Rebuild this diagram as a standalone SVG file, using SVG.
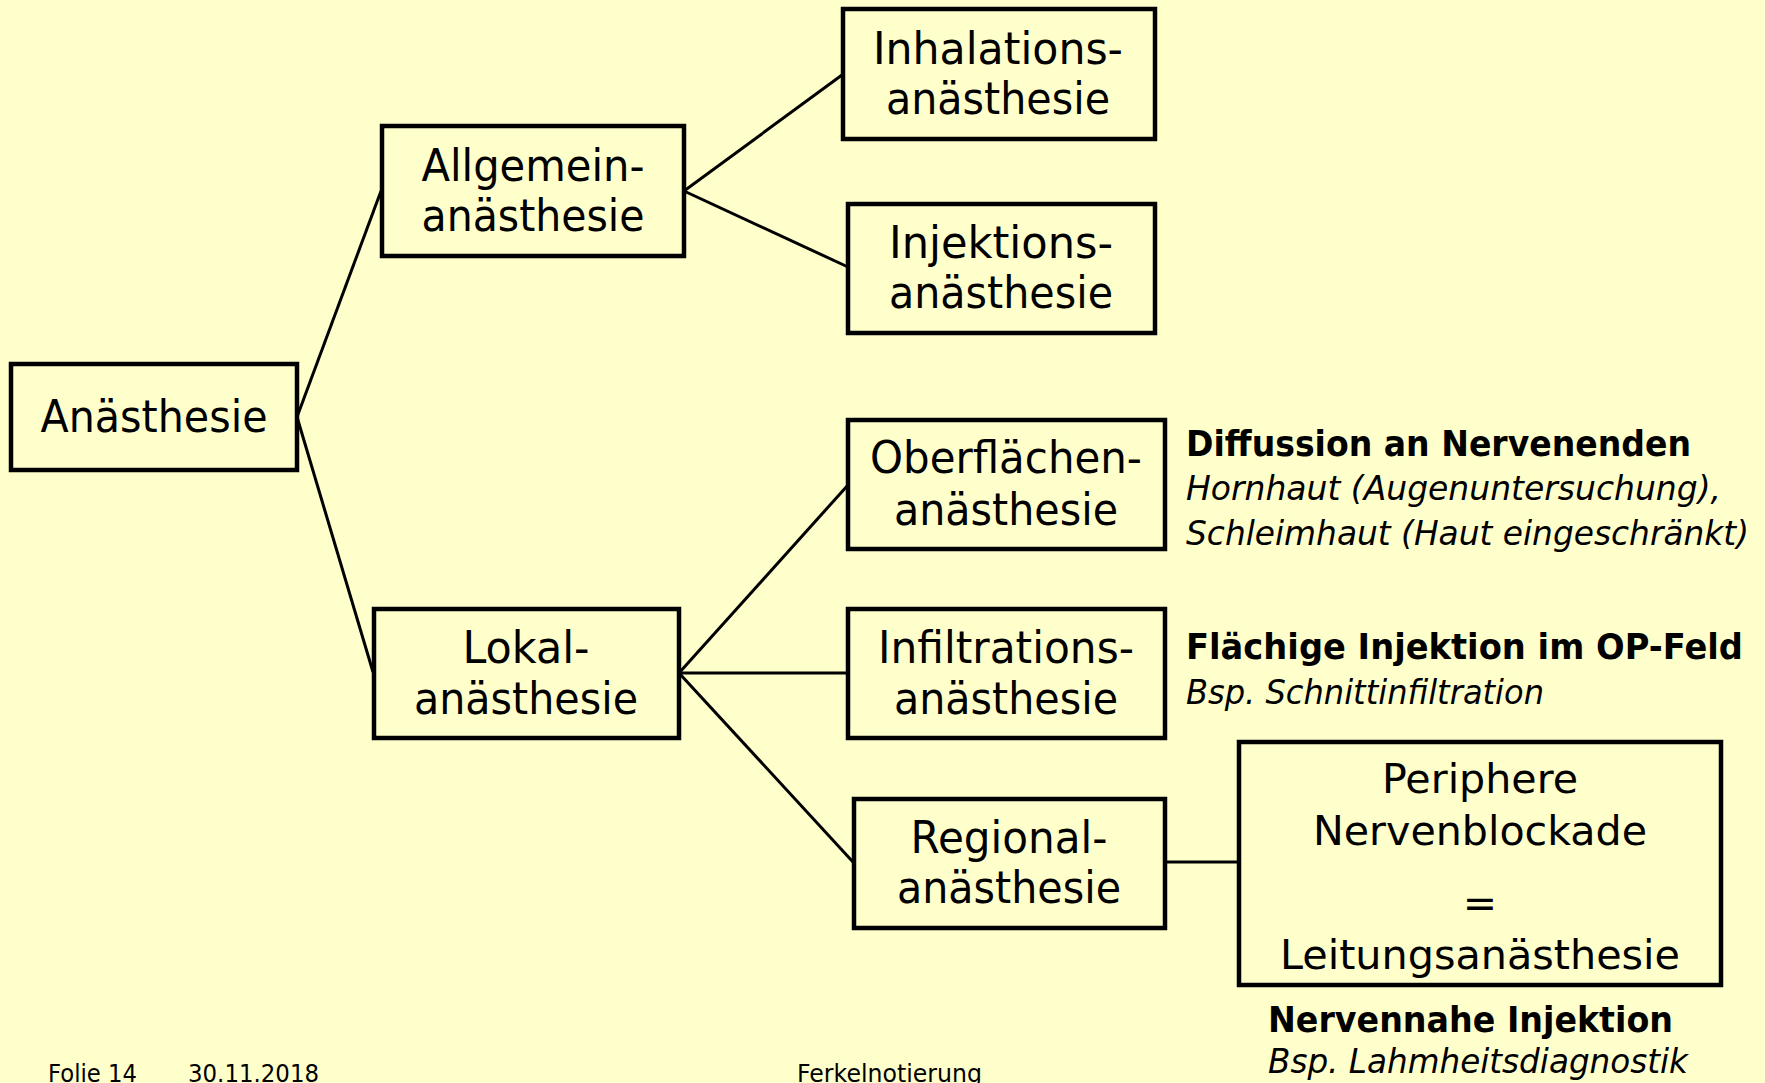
<svg xmlns="http://www.w3.org/2000/svg" width="1765" height="1083" viewBox="0 0 1765 1083">
<style>
.bg{fill:#FFFFCC}
.box{fill:#FFFFCC;stroke:#000;stroke-width:4.5}
.lbl{font-family:"DejaVu Sans","Verdana",sans-serif;font-size:44px;fill:#000;text-anchor:middle}
.big{font-family:"DejaVu Sans","Verdana",sans-serif;font-size:41px;fill:#000;text-anchor:middle}
.b{font-family:"DejaVu Sans","Verdana",sans-serif;font-size:35px;font-weight:bold;fill:#000}
.it{font-family:"DejaVu Sans","Verdana",sans-serif;font-size:33.5px;font-style:italic;fill:#000}
.ft{font-family:"DejaVu Sans","Verdana",sans-serif;font-size:24px;fill:#000}
.con line{stroke:#000;stroke-width:3}
</style>
<rect class="bg" x="0" y="0" width="1765" height="1083"/>
<g class="con" id="connectors">
<line x1="297" y1="417" x2="381" y2="191"/>
<line x1="297" y1="417" x2="373" y2="672"/>
<line x1="684" y1="191" x2="842" y2="75"/>
<line x1="684" y1="191" x2="848" y2="267"/>
<line x1="679" y1="673" x2="848" y2="485"/>
<line x1="679" y1="673" x2="848" y2="673"/>
<line x1="679" y1="673" x2="853" y2="862"/>
<line x1="1165" y1="862" x2="1239" y2="862"/>
</g>
<g id="anaesthesie">
<rect class="box" x="11" y="364" width="286" height="106"/>
<text class="lbl" x="154" y="432" textLength="227" lengthAdjust="spacingAndGlyphs">Anästhesie</text>
</g>
<g id="allgemein">
<rect class="box" x="382" y="126" width="302" height="130"/>
<text class="lbl" x="533" y="181" textLength="223" lengthAdjust="spacingAndGlyphs">Allgemein-</text>
<text class="lbl" x="533" y="231" textLength="223" lengthAdjust="spacingAndGlyphs">anästhesie</text>
</g>
<g id="inhalation">
<rect class="box" x="843" y="9" width="312" height="130"/>
<text class="lbl" x="998" y="64" textLength="250" lengthAdjust="spacingAndGlyphs">Inhalations-</text>
<text class="lbl" x="998" y="114" textLength="224" lengthAdjust="spacingAndGlyphs">anästhesie</text>
</g>
<g id="injektion">
<rect class="box" x="848" y="204" width="307" height="129"/>
<text class="lbl" x="1001" y="258" textLength="224" lengthAdjust="spacingAndGlyphs">Injektions-</text>
<text class="lbl" x="1001" y="308" textLength="224" lengthAdjust="spacingAndGlyphs">anästhesie</text>
</g>
<g id="lokal">
<rect class="box" x="374" y="609" width="305" height="129"/>
<text class="lbl" x="526" y="663" textLength="127" lengthAdjust="spacingAndGlyphs">Lokal-</text>
<text class="lbl" x="526" y="714" textLength="224" lengthAdjust="spacingAndGlyphs">anästhesie</text>
</g>
<g id="oberflaechen">
<rect class="box" x="848" y="420" width="317" height="129"/>
<text class="lbl" x="1006" y="473" textLength="272" lengthAdjust="spacingAndGlyphs">Oberflächen-</text>
<text class="lbl" x="1006" y="525" textLength="224" lengthAdjust="spacingAndGlyphs">anästhesie</text>
</g>
<g id="infiltration">
<rect class="box" x="848" y="609" width="317" height="129"/>
<text class="lbl" x="1006" y="663" textLength="256" lengthAdjust="spacingAndGlyphs">Infiltrations-</text>
<text class="lbl" x="1006" y="714" textLength="224" lengthAdjust="spacingAndGlyphs">anästhesie</text>
</g>
<g id="regional">
<rect class="box" x="854" y="799" width="311" height="129"/>
<text class="lbl" x="1009" y="853" textLength="197" lengthAdjust="spacingAndGlyphs">Regional-</text>
<text class="lbl" x="1009" y="903" textLength="224" lengthAdjust="spacingAndGlyphs">anästhesie</text>
</g>
<g id="periphere">
<rect class="box" x="1239" y="742" width="482" height="243"/>
<text class="big" x="1480" y="793" textLength="196" lengthAdjust="spacingAndGlyphs">Periphere</text>
<text class="big" x="1480" y="845" textLength="334" lengthAdjust="spacingAndGlyphs">Nervenblockade</text>
<text class="big" x="1480" y="917">=</text>
<text class="big" x="1480" y="969" textLength="400" lengthAdjust="spacingAndGlyphs">Leitungsanästhesie</text>
</g>
<g id="note-oberflaechen">
<text class="b" x="1186" y="456" textLength="505" lengthAdjust="spacingAndGlyphs">Diffussion an Nervenenden</text>
<text class="it" x="1186" y="500" textLength="535" lengthAdjust="spacingAndGlyphs">Hornhaut (Augenuntersuchung),</text>
<text class="it" x="1186" y="545" textLength="563" lengthAdjust="spacingAndGlyphs">Schleimhaut (Haut eingeschränkt)</text>
</g>
<g id="note-infiltration">
<text class="b" x="1186" y="659" textLength="557" lengthAdjust="spacingAndGlyphs">Flächige Injektion im OP-Feld</text>
<text class="it" x="1186" y="704" textLength="358" lengthAdjust="spacingAndGlyphs">Bsp. Schnittinfiltration</text>
</g>
<g id="note-regional">
<text class="b" x="1268" y="1032" textLength="405" lengthAdjust="spacingAndGlyphs">Nervennahe Injektion</text>
<text class="it" x="1268" y="1073" textLength="420" lengthAdjust="spacingAndGlyphs">Bsp. Lahmheitsdiagnostik</text>
</g>
<g id="footer">
<text class="ft" x="48" y="1082" textLength="89" lengthAdjust="spacingAndGlyphs">Folie 14</text>
<text class="ft" x="188" y="1082" textLength="131" lengthAdjust="spacingAndGlyphs">30.11.2018</text>
<text class="ft" x="797" y="1082" textLength="185" lengthAdjust="spacingAndGlyphs">Ferkelnotierung</text>
</g>
</svg>
